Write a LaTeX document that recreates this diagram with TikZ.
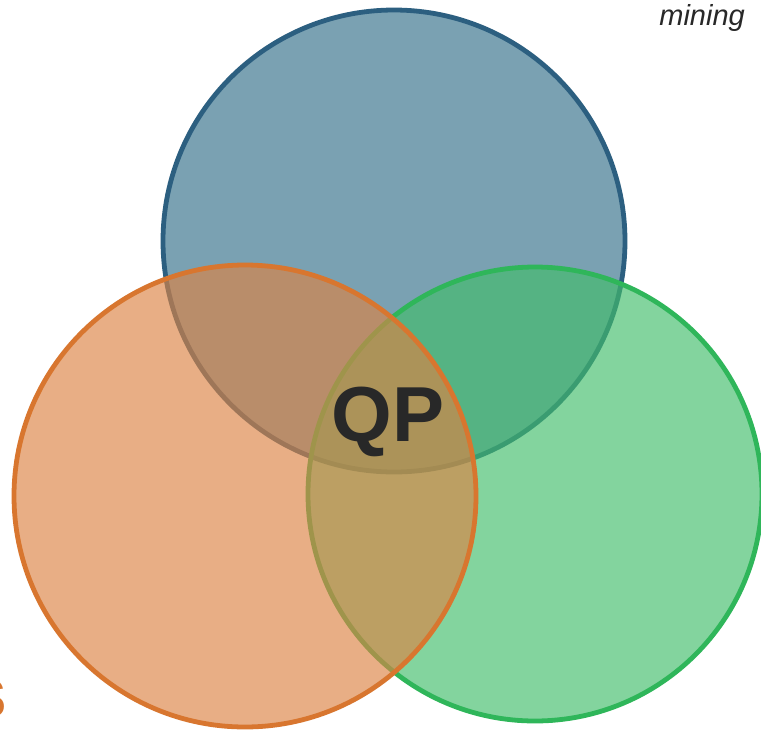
\documentclass[tikz,border=0pt]{standalone}
\usepackage{fontspec}
\setmainfont{Liberation Sans}
\definecolor{setBlue}{RGB}{52,112,138}
\definecolor{setBlueLine}{RGB}{44,95,128}
\definecolor{setOrange}{RGB}{220,131,68}
\definecolor{setOrangeLine}{RGB}{216,118,47}
\definecolor{setGreen}{RGB}{66,189,106}
\definecolor{setGreenLine}{RGB}{47,182,90}
\definecolor{labelGray}{RGB}{40,40,40}

\begin{document}
\begin{tikzpicture}[x = 1pt, y = -1pt,
  set/.style = {line width = 4.8pt, fill opacity = .65},
  word/.style = {inner sep = 0pt, text = labelGray}]
\clip (0, 0) rectangle (761, 729);
\fill[white] (0, 0) rectangle (761, 729);

% the three sets
\filldraw[set, fill = setBlue, draw = setBlueLine] (394, 241) circle (231);
\filldraw[set, fill = setGreen, draw = setGreenLine] (535, 494) circle (227);
\filldraw[set, fill = setOrange, draw = setOrangeLine] (245, 496) circle (231);

\node (qp) at (388, 441) [word, anchor = base] {\fontsize{78}{80}\selectfont\bfseries QP};
\node (mining) at (745, 25) [word, anchor = base east] {\fontsize{29}{31}\selectfont\itshape mining};
\node (cut) at (7, 717) [word, anchor = base east, text = setOrangeLine] {\fontsize{54}{60}\selectfont\bfseries S};

\end{tikzpicture}
\end{document}
